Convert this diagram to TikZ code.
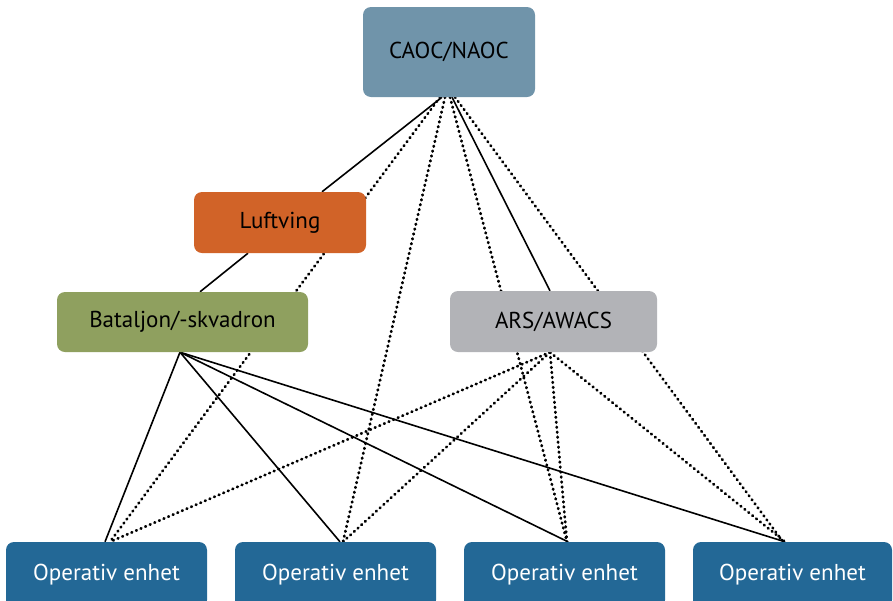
\documentclass[tikz,border=0pt]{standalone}
\usepackage{fontspec}
\setmainfont{PT Sans}
\usetikzlibrary{calc}
\pgfdeclarelayer{background}
\pgfsetlayers{background,main}
\definecolor{caocc}{HTML}{7094AA}
\definecolor{luftc}{HTML}{D16328}
\definecolor{batc}{HTML}{8FA05F}
\definecolor{arsc}{HTML}{B2B3B7}
\definecolor{opc}{HTML}{236896}
\tikzset{
  box/.style={rectangle, rounded corners=8pt, inner sep=0pt, font=\fontsize{23}{27}\selectfont},
  upper/.style={box, text=black},
  opbox/.style={box, fill=opc, text=white, minimum width=201pt, minimum height=66pt},
  solidline/.style={line width=1.6pt, black},
  dotline/.style={line width=2.8pt, black, line cap=round, dash pattern=on 0.7pt off 4.3pt},
}
\begin{document}
\begin{tikzpicture}[x=1pt,y=-1pt]
\useasboundingbox (0,0) rectangle (893,600);
\clip (0,0) rectangle (893,600);
\node[upper, fill=caocc, minimum width=172pt, minimum height=90pt] (caoc) at (449,52) {CAOC/NAOC};
\node[upper, fill=luftc, minimum width=172pt, minimum height=61pt] (luft) at (280,222.5) {Luftving};
\node[upper, fill=batc, minimum width=251pt, minimum height=60pt] (bat) at (182.5,322) {Bataljon/-skvadron};
\node[upper, fill=arsc, minimum width=207pt, minimum height=61pt] (ars) at (553.5,321.5) {ARS/AWACS};
\node[opbox] (op1) at (106.5,575) {\raisebox{4pt}{Operativ enhet}};
\node[opbox] (op2) at (335.5,575) {\raisebox{4pt}{Operativ enhet}};
\node[opbox] (op3) at (564.5,575) {\raisebox{4pt}{Operativ enhet}};
\node[opbox, minimum width=199pt] (op4) at (792.5,575) {\raisebox{4pt}{Operativ enhet}};
\begin{pgfonlayer}{background}
% from CAOC
\draw[solidline] ([xshift=-7pt]caoc.south) -- ([xshift=42pt]luft.north);
\draw[dotline] ([xshift=-9pt]caoc.south) -- ([xshift=3.5pt]op1.north);
\draw[dotline] ([xshift=-4pt]caoc.south) -- ([xshift=7.5pt]op2.north);
\draw[dotline] ([xshift=1pt]caoc.south) -- ([xshift=2.5pt]op3.north);
\draw[solidline] ([xshift=3pt]caoc.south) -- ([xshift=-3.5pt]ars.north);
\draw[dotline] ([xshift=6pt]caoc.south) -- ([xshift=-9.5pt]op4.north);
% Luftving to Bataljon
\draw[solidline] ([xshift=-32pt]luft.south) -- ([xshift=17.5pt]bat.north);
% from Bataljon
\draw[solidline] ([xshift=-2.5pt]bat.south) -- ([xshift=-1.5pt]op1.north);
\draw[solidline] ([xshift=-2.5pt]bat.south) -- ([xshift=4.5pt]op2.north);
\draw[solidline] ([xshift=-2.5pt]bat.south) -- ([xshift=3.5pt]op3.north);
\draw[solidline] ([xshift=-2.5pt]bat.south) -- ([xshift=-7.5pt]op4.north);
% from ARS/AWACS
\draw[dotline] ([xshift=-3.5pt]ars.south) -- ([xshift=3.5pt]op1.north);
\draw[dotline] ([xshift=-3.5pt]ars.south) -- ([xshift=7.5pt]op2.north);
\draw[dotline] ([xshift=-3.5pt]ars.south) -- ([xshift=2.5pt]op3.north);
\draw[dotline] ([xshift=-3.5pt]ars.south) -- ([xshift=-7.5pt]op4.north);
\end{pgfonlayer}
\end{tikzpicture}
\end{document}
